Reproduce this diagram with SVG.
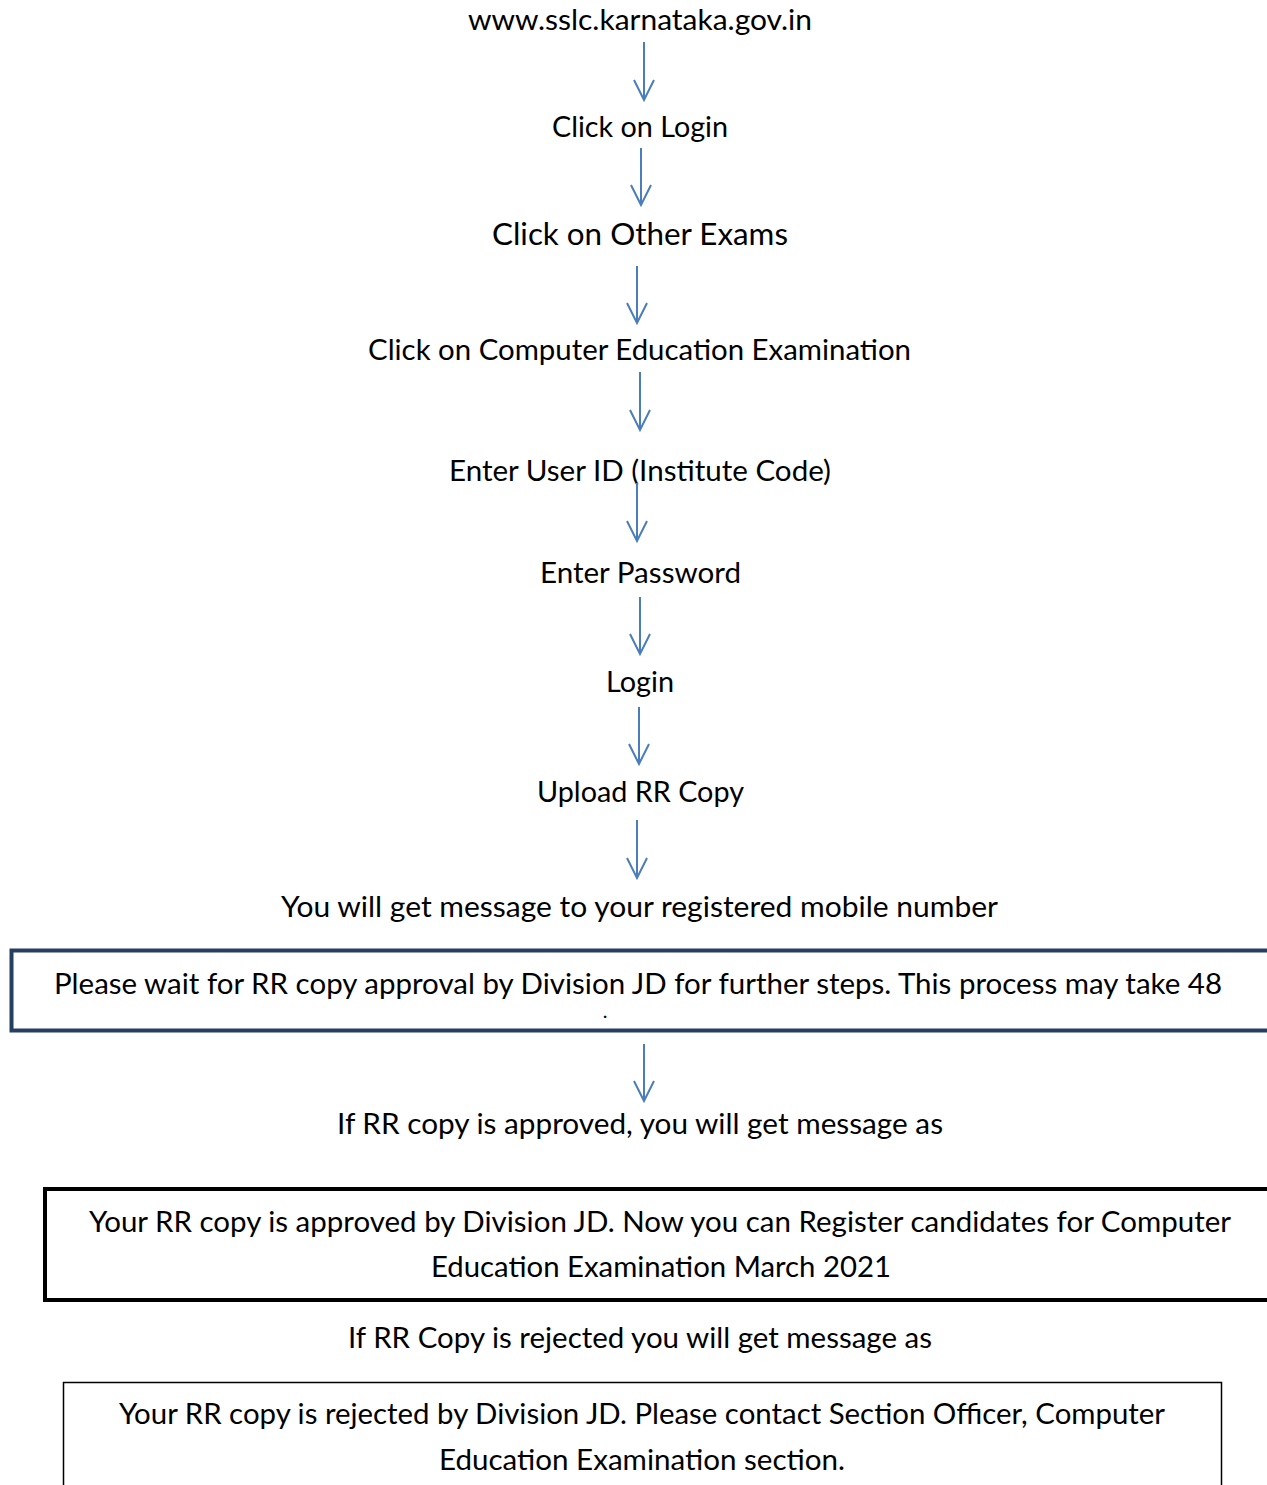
<svg xmlns="http://www.w3.org/2000/svg" width="1267" height="1485" viewBox="0 0 1267 1485">
<defs>
<style>
text{font-family:Lato,"Open Sans","Liberation Sans",sans-serif;font-size:28px;fill:#000;text-anchor:middle}
.arr{stroke:#4A7EBB;stroke-width:2;fill:none}
</style>
<marker id="ah" viewBox="0 0 24 24" refX="22" refY="12" markerWidth="24" markerHeight="24" markerUnits="userSpaceOnUse" orient="auto">
<path d="M2 2 L22 12 L2 22" fill="none" stroke="#4A7EBB" stroke-width="2"/>
</marker>
</defs>
<rect width="1267" height="1485" fill="#fff"/>
<g id="n1"><text x="640" y="30" textLength="344" lengthAdjust="spacingAndGlyphs">www.sslc.karnataka.gov.in</text></g>
<g id="n2"><text x="640" y="137" textLength="176" lengthAdjust="spacingAndGlyphs">Click on Login</text></g>
<g id="n3"><text x="640" y="245" textLength="296" lengthAdjust="spacingAndGlyphs" style="font-size:30px">Click on Other Exams</text></g>
<g id="n4"><text x="639.5" y="360" textLength="543" lengthAdjust="spacingAndGlyphs">Click on Computer Education Examination</text></g>
<g id="n5"><text x="640" y="481" textLength="382" lengthAdjust="spacingAndGlyphs">Enter User ID (Institute Code)</text></g>
<g id="n6"><text x="640.5" y="583" textLength="201" lengthAdjust="spacingAndGlyphs">Enter Password</text></g>
<g id="n7"><text x="640" y="692" textLength="68" lengthAdjust="spacingAndGlyphs">Login</text></g>
<g id="n8"><text x="640.5" y="802" textLength="207" lengthAdjust="spacingAndGlyphs">Upload RR Copy</text></g>
<g id="n9"><text x="639.5" y="917" textLength="717" lengthAdjust="spacingAndGlyphs">You will get message to your registered mobile number</text></g>
<g id="n10">
<rect x="11.5" y="950.5" width="1262" height="80" fill="#fff" stroke="#243F60" stroke-width="4"/>
<text x="638" y="994" textLength="1168" lengthAdjust="spacingAndGlyphs">Please wait for RR copy approval by Division JD for further steps. This process may take 48</text>
<text x="605" y="1018" style="font-size:20px">.</text>
</g>
<g id="n11"><text x="640" y="1134" textLength="606" lengthAdjust="spacingAndGlyphs">If RR copy is approved, you will get message as</text></g>
<g id="n12">
<rect x="45" y="1189" width="1230" height="111" fill="#fff" stroke="#000" stroke-width="4"/>
<text x="660" y="1232" textLength="1142" lengthAdjust="spacingAndGlyphs">Your RR copy is approved by Division JD. Now you can Register candidates for Computer</text>
<text x="661" y="1277" textLength="460" lengthAdjust="spacingAndGlyphs">Education Examination March 2021</text>
</g>
<g id="n13"><text x="640" y="1348" textLength="584" lengthAdjust="spacingAndGlyphs">If RR Copy is rejected you will get message as</text></g>
<g id="n14">
<rect x="63.5" y="1382.5" width="1158" height="120" fill="#fff" stroke="#000" stroke-width="1.5"/>
<text x="642" y="1424" textLength="1046" lengthAdjust="spacingAndGlyphs">Your RR copy is rejected by Division JD. Please contact Section Officer, Computer</text>
<text x="642" y="1470" textLength="406" lengthAdjust="spacingAndGlyphs">Education Examination section.</text>
</g>
<g id="connectors">
<line class="arr" x1="644" y1="42" x2="644" y2="100" marker-end="url(#ah)"/>
<line class="arr" x1="641" y1="148" x2="641" y2="205" marker-end="url(#ah)"/>
<line class="arr" x1="637" y1="266" x2="637" y2="323" marker-end="url(#ah)"/>
<line class="arr" x1="640" y1="372" x2="640" y2="430" marker-end="url(#ah)"/>
<line class="arr" x1="637" y1="483" x2="637" y2="541" marker-end="url(#ah)"/>
<line class="arr" x1="640" y1="597" x2="640" y2="654" marker-end="url(#ah)"/>
<line class="arr" x1="639" y1="707" x2="639" y2="764" marker-end="url(#ah)"/>
<line class="arr" x1="637" y1="820" x2="637" y2="878" marker-end="url(#ah)"/>
<line class="arr" x1="644" y1="1044" x2="644" y2="1101" marker-end="url(#ah)"/>
</g>
</svg>
